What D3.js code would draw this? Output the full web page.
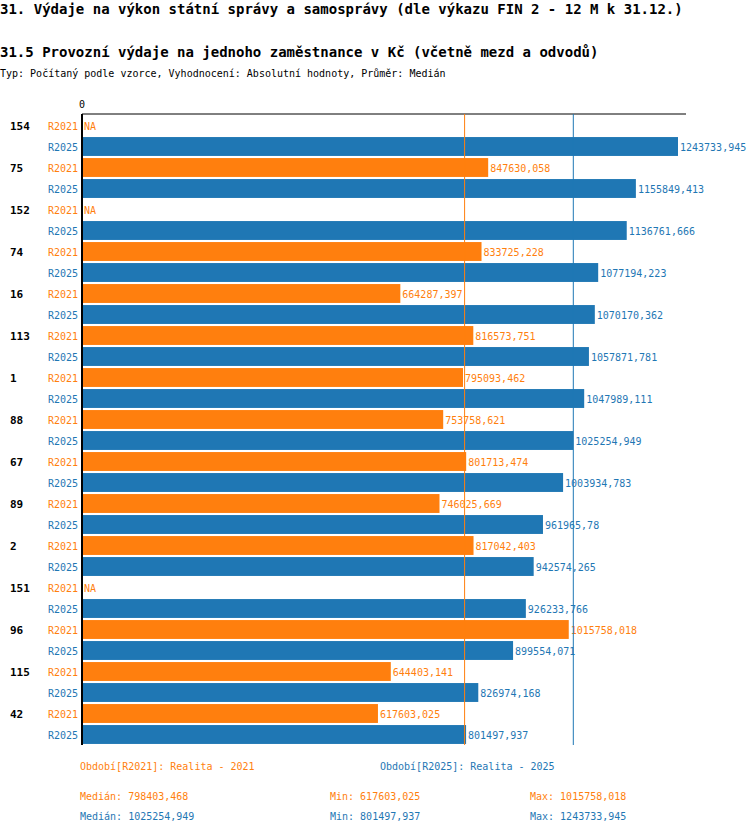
<!DOCTYPE html>
<html><head><meta charset="utf-8">
<script src="https://cdn.jsdelivr.net/npm/d3@7.9.0/dist/d3.min.js"></script>
<style>
body{margin:0;background:#fff;font-family:"DejaVu Sans Mono",monospace;}
svg text{font-family:"DejaVu Sans Mono",monospace;}
</style></head><body>
<svg id="c" width="750" height="834"></svg>
<script>
const categories = ['154','75','152','74','16','113','1','88','67','89','2','151','96','115','42'];
const r2021 = [null,847630.058,null,833725.228,664287.397,816573.751,795093.462,753758.621,801713.474,746025.669,817042.403,null,1015758.018,644403.141,617603.025];
const r2025 = [1243733.945,1155849.413,1136761.666,1077194.223,1070170.362,1057871.781,1047989.111,1025254.949,1003934.783,961965.78,942574.265,926233.766,899554.071,826974.168,801497.937];
const medians = [798403.468, 1025254.949];
const colors = ['#ff7f0e', '#1f77b4'];
const series = ['R2021', 'R2025'];

const svg = d3.select('#c');
const fmt = v => String(v).replace('.', ',');

svg.append('text').attr('x',0).attr('y',14).attr('font-size',14).attr('font-weight','bold')
  .text('31. Výdaje na výkon státní správy a samosprávy (dle výkazu FIN 2 - 12 M k 31.12.)');
svg.append('text').attr('x',0).attr('y',57).attr('font-size',14).attr('font-weight','bold')
  .text('31.5 Provozní výdaje na jednoho zaměstnance v Kč (včetně mezd a odvodů)');
svg.append('text').attr('x',0).attr('y',77).attr('font-size',10)
  .text('Typ: Počítaný podle vzorce, Vyhodnocení: Absolutní hodnoty, Průměr: Medián');

const x = d3.scaleLinear().domain([0, 1250000]).range([82, 681]);
const y = d3.scaleBand().domain(categories).range([115, 745]);
const sub = d3.scaleBand().domain(series).range([0, 42]).paddingInner(0.1).paddingOuter(0.05);

// top axis line and 0 label
svg.append('line').attr('x1',x(0)).attr('x2',686).attr('y1',114).attr('y2',114).attr('stroke','#000');
svg.append('text').attr('x',x(0)).attr('y',108).attr('font-size',10).attr('text-anchor','middle').text('0');

const g = svg.selectAll('g.cat').data(categories).enter().append('g')
  .attr('transform', d => `translate(0,${y(d)})`);
g.append('text').attr('x',10).attr('y',sub('R2021')+sub.bandwidth()/2+4)
  .attr('font-size',11).attr('font-weight','bold').text(d => d);

[r2021, r2025].forEach((vals, si) => {
  const s = series[si];
  g.append('text').attr('x',78).attr('y',sub(s)+sub.bandwidth()/2+4).attr('text-anchor','end')
    .attr('font-size',10).attr('fill',colors[si]).text(s);
  g.append('rect').attr('x',x(0)).attr('y',sub(s))
    .attr('width',(d,i) => vals[i]==null ? 0 : x(vals[i]) - x(0))
    .attr('height',sub.bandwidth()).attr('fill',colors[si]);
  g.append('text').attr('x',(d,i) => (vals[i]==null ? x(0) : x(vals[i])) + 2)
    .attr('y',sub(s)+sub.bandwidth()/2+4).attr('font-size',10).attr('fill',colors[si])
    .text((d,i) => vals[i]==null ? 'NA' : fmt(vals[i]));
});

// median lines
medians.forEach((m, i) => {
  svg.append('line').attr('x1',x(m)).attr('x2',x(m)).attr('y1',114).attr('y2',745)
    .attr('stroke',colors[i]).attr('stroke-width',1);
});
svg.append('line').attr('x1',x(0)).attr('x2',x(0)).attr('y1',114).attr('y2',745)
  .attr('stroke','#000').attr('stroke-width',2);

// legend
const leg = [['Období[R2021]: Realita - 2021', 80], ['Období[R2025]: Realita - 2025', 380]];
leg.forEach((l, i) => svg.append('text').attr('x',l[1]).attr('y',770).attr('font-size',10)
  .attr('fill',colors[i]).text(l[0]));
const stats = [[r2021, 800], [r2025, 820]];
stats.forEach(([vals, yy], i) => {
  const v = vals.filter(d => d != null);
  svg.append('text').attr('x',80).attr('y',yy).attr('font-size',10).attr('fill',colors[i]).text('Medián: ' + fmt(medians[i]));
  svg.append('text').attr('x',330).attr('y',yy).attr('font-size',10).attr('fill',colors[i]).text('Min: ' + fmt(d3.min(v)));
  svg.append('text').attr('x',530).attr('y',yy).attr('font-size',10).attr('fill',colors[i]).text('Max: ' + fmt(d3.max(v)));
});
</script></body></html>
